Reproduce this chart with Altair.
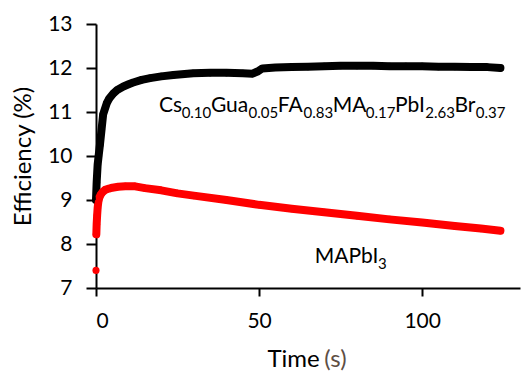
import altair as alt
import pandas as pd

# ---- data ----
series_names = ["Cs0.10Gua0.05FA0.83MA0.17PbI2.63Br0.37", "MAPbI3"]

time_cs = [0, 0.2, 0.5, 0.8, 1.2, 1.7, 2.2, 3.3, 4, 5.3, 6.5, 8.4, 10, 11.4, 14, 16.6,
           20, 23.7, 29.8, 35, 40, 45, 48, 49.5, 51, 55, 60, 65, 70, 75, 80, 85, 90,
           95, 100, 105, 110, 115, 120, 124]
eff_cs = [9.0, 9.4, 9.8, 10.0, 10.25, 10.6, 10.95, 11.2, 11.3, 11.42, 11.5, 11.58, 11.63,
          11.67, 11.73, 11.77, 11.81, 11.84, 11.88, 11.89, 11.89, 11.88, 11.87, 11.92,
          11.99, 12.01, 12.02, 12.03, 12.04, 12.05, 12.05, 12.05, 12.04, 12.04, 12.04,
          12.03, 12.03, 12.02, 12.02, 12.0]

time_ma = [0, 0.1, 0.2, 0.35, 0.5, 0.7, 1.0, 1.5, 2, 2.8, 4, 5, 6.8, 9, 12, 15, 20, 25,
           30, 40, 50, 60, 70, 80, 90, 100, 110, 118, 124]
eff_ma = [7.4, 8.22, 8.45, 8.65, 8.82, 8.95, 9.05, 9.13, 9.18, 9.23, 9.26, 9.28, 9.3,
          9.31, 9.31, 9.27, 9.22, 9.15, 9.1, 9.0, 8.89, 8.8, 8.72, 8.64, 8.56, 8.49,
          8.41, 8.35, 8.3]

x_ticks = [0, 50, 100]
y_ticks = [7, 8, 9, 10, 11, 12, 13]

# annotation pieces: (text, is_subscript)
cs_label = [("Cs", False), ("0.10", True), ("Gua", False), ("0.05", True),
            ("FA", False), ("0.83", True), ("MA", False), ("0.17", True),
            ("PbI", False), ("2.63", True), ("Br", False), ("0.37", True)]
ma_label = [("MAPbI", False), ("3", True)]
cs_anchor = (19.3, 11.0)
ma_anchor = (67.1, 7.57)

# ---- layout constants ----
W, H = 424, 264
X_DOM = [0, 130]
Y_DOM = [7, 13]
FONT = "Lato"
MAIN_FS, SUB_FS = 21, 15
TITLE_FS = 24

# approximate advance widths (em) for Lato
CW = {"C": .67, "s": .41, "G": .73, "u": .56, "a": .50, "F": .55, "A": .68,
      "M": .89, "P": .60, "b": .56, "I": .28, "B": .64, "r": .37, ".": .21,
      "T": .56, "i": .23, "m": .86, "e": .53, " ": .19, "(": .30, ")": .30}


def text_width(txt, fs):
    return sum(CW.get(c, .58) for c in txt) * fs


def pieces_frame(pieces, anchor):
    px_per_unit = W / (X_DOM[1] - X_DOM[0])
    rows, cum = [], 0.0
    for txt, sub in pieces:
        fs = SUB_FS if sub else MAIN_FS
        rows.append({"txt": txt, "sub": sub, "t": anchor[0] + cum / px_per_unit,
                     "v": anchor[1]})
        cum += text_width(txt, fs)
    return pd.DataFrame(rows)


df = pd.concat([
    pd.DataFrame({"t": time_cs, "eff": eff_cs, "series": series_names[0]}),
    pd.DataFrame({"t": time_ma, "eff": eff_ma, "series": series_names[1]}),
], ignore_index=True)

labels = pd.concat([pieces_frame(cs_label, cs_anchor),
                    pieces_frame(ma_label, ma_anchor)], ignore_index=True)

xs = alt.Scale(domain=X_DOM, nice=False, zero=False)
ys = alt.Scale(domain=Y_DOM, nice=False, zero=False)
colors = alt.Scale(domain=series_names, range=["#000000", "#ff0000"])

x_enc = alt.X("t:Q", scale=xs, axis=alt.Axis(
    values=x_ticks, title=None, grid=False, tickSize=8, tickWidth=2,
    domainWidth=2, domainColor="black", tickColor="black",
    labelFont=FONT, labelFontSize=21, labelColor="black", labelPadding=14))
y_enc = alt.Y("eff:Q", scale=ys, axis=alt.Axis(
    values=y_ticks, title="Efficiency (%)", grid=False, tickSize=10, tickWidth=2,
    domainWidth=2, domainColor="black", tickColor="black",
    labelFont=FONT, labelFontSize=21, labelColor="black", labelPadding=14,
    titleFont=FONT, titleFontSize=TITLE_FS, titleFontWeight="normal",
    titleColor="black", titlePadding=12))

base = alt.Chart(df)
lines = base.mark_line(strokeWidth=8, strokeCap="round", strokeJoin="round").encode(
    x=x_enc, y=y_enc,
    color=alt.Color("series:N", scale=colors, legend=None),
    detail="series:N",
).transform_filter("datum.eff > 8")
points = base.mark_circle(size=50, opacity=1).encode(
    x=alt.X("t:Q", scale=xs), y=alt.Y("eff:Q", scale=ys),
    color=alt.Color("series:N", scale=colors, legend=None),
)

lab = alt.Chart(labels)
main_txt = lab.mark_text(font=FONT, fontSize=MAIN_FS, align="left",
                         baseline="alphabetic", color="black").encode(
    x=alt.X("t:Q", scale=xs), y=alt.Y("v:Q", scale=ys), text="txt:N"
).transform_filter("!datum.sub")
sub_txt = lab.mark_text(font=FONT, fontSize=SUB_FS, align="left",
                        baseline="alphabetic", color="black", dy=6).encode(
    x=alt.X("t:Q", scale=xs), y=alt.Y("v:Q", scale=ys), text="txt:N"
).transform_filter("datum.sub")

# x axis title "Time (s)" with grey "(s)"
title_parts = ["Time", "(s)"]
title_colors = ["black", "#5e4e44"]
full_w = text_width(title_parts[0] + " " + title_parts[1], TITLE_FS)
left0 = W / 2 - full_w / 2
left1 = left0 + text_width(title_parts[0] + " ", TITLE_FS)
title_df = pd.DataFrame({"txt": title_parts, "col": title_colors,
                         "px": [left0, left1]})
x_title = alt.Chart(title_df).mark_text(
    font=FONT, fontSize=TITLE_FS, align="left", baseline="alphabetic"
).encode(
    x=alt.X("px:Q", scale=None), y=alt.value(H + 79), text="txt:N",
    color=alt.Color("col:N", scale=None),
)

chart = alt.layer(lines, points, main_txt, sub_txt, x_title).properties(
    width=W, height=H,
    padding={"left": 96, "top": 24, "right": 1, "bottom": 83},
    autosize=alt.AutoSizeParams(type="none"),
    background="white",
).configure_view(stroke=None)

chart.save("out.html", embed_options={"renderer": "svg", "actions": False})
